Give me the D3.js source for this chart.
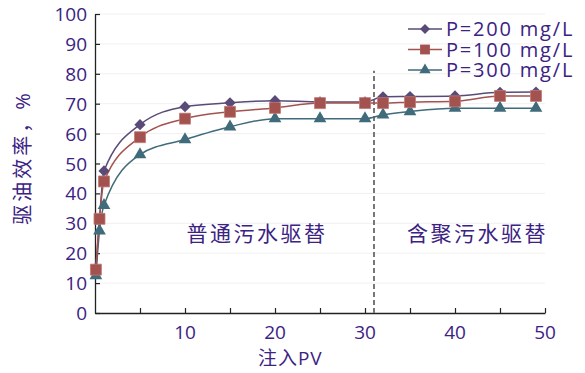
<!DOCTYPE html>
<html>
<head>
<meta charset="utf-8">
<script src="https://cdn.jsdelivr.net/npm/d3@7"></script>
<style>
  body { margin: 0; background: #fff; }
  text { font-family: "Open Sans", "Noto Sans CJK SC", sans-serif; fill: #3b2283; }
</style>
</head>
<body>
<script>
let width = 585;
let height = 373;

let marginLeft = 95;
let marginRight = 40;
let marginTop = 14;
let marginBottom = 60;

// injected PV
const pv = [0.1, 0.5, 1, 5, 10, 15, 20, 25, 30, 32, 35, 40, 45, 49];
// oil displacement efficiency, %
const p200 = [15, 31.5, 47.5, 63, 69, 70.3, 71, 70.6, 70.6, 72.3, 72.4, 72.6, 73.8, 73.9];
const p100 = [14.5, 31.5, 44, 58.8, 65, 67.3, 68.6, 70.2, 70.2, 70.2, 70.5, 70.8, 72.6, 72.6];
const p300 = [12.5, 27.5, 36, 53, 58, 62.3, 65, 65, 65, 66.3, 67.4, 68.5, 68.5, 68.5];

const seriesNames = ["P=200 mg/L", "P=100 mg/L", "P=300 mg/L"];
const seriesColors = ["#5a4a78", "#a3524f", "#3f6b7a"];
const seriesShapes = [d3.symbolDiamond2, d3.symbolSquare, d3.symbolTriangle];

const xTicks = [5, 10, 15, 20, 25, 30, 35, 40, 45, 50];
const xLabels = [10, 20, 30, 40, 50];
const yTicks = [0, 10, 20, 30, 40, 50, 60, 70, 80, 90, 100];
const splitPV = 31;
const zoneLabels = ["普通污水驱替", "含聚污水驱替"];
const zoneX = [18, 42.5];

let svg = d3.select("body").append("svg")
  .attr("width", width)
  .attr("height", height);

let scaleX = d3.scaleLinear().domain([0, 50]).range([marginLeft, width - marginRight]);
let scaleY = d3.scaleLinear().domain([0, 100]).range([height - marginBottom, marginTop]);

// faint gridlines
svg.append("g")
  .selectAll("line")
  .data(yTicks.slice(1))
  .join("line")
  .attr("x1", scaleX(0)).attr("x2", scaleX(50))
  .attr("y1", d => scaleY(d)).attr("y2", d => scaleY(d))
  .style("stroke", "#f1f1f1");

// axes
let axisX = d3.axisBottom(scaleX).tickValues(xTicks).tickSizeInner(-5).tickSizeOuter(0).tickFormat("");
let axisY = d3.axisLeft(scaleY).tickValues(yTicks).tickSizeInner(-5).tickSizeOuter(0).tickFormat("");

let gx = svg.append("g")
  .attr("transform", `translate(0, ${scaleY(0)})`)
  .call(axisX);
let gy = svg.append("g")
  .attr("transform", `translate(${scaleX(0)}, 0)`)
  .call(axisY);
[gx, gy].forEach(g => {
  g.select(".domain").style("stroke", "#222").style("stroke-width", 1.3);
  g.selectAll(".tick line").style("stroke", "#222").style("stroke-width", 1.2);
});

svg.append("g").selectAll("text")
  .data(yTicks)
  .join("text")
  .attr("x", scaleX(0) - 8)
  .attr("y", d => scaleY(d) + 7)
  .attr("text-anchor", "end")
  .style("font-size", "19px")
  .text(d => d);

svg.append("g").selectAll("text")
  .data(xLabels)
  .join("text")
  .attr("x", d => scaleX(d))
  .attr("y", scaleY(0) + 26)
  .attr("text-anchor", "middle")
  .style("font-size", "19px")
  .text(d => d);

// axis titles
svg.append("text")
  .attr("transform", `translate(30, ${scaleY(52)}) rotate(-90)`)
  .attr("text-anchor", "middle")
  .style("font-size", "20px")
  .style("letter-spacing", "3px")
  .text("驱油效率，%");

svg.append("text")
  .attr("x", scaleX(21.7))
  .attr("y", height - 8)
  .attr("text-anchor", "middle")
  .style("font-size", "19px")
  .style("letter-spacing", "1px")
  .text("注入PV");

// split line
svg.append("line")
  .attr("x1", scaleX(splitPV)).attr("x2", scaleX(splitPV))
  .attr("y1", scaleY(0)).attr("y2", scaleY(81))
  .style("stroke", "#777")
  .style("stroke-width", 2)
  .style("stroke-dasharray", "5,3");

svg.append("g").selectAll("text")
  .data(zoneLabels)
  .join("text")
  .attr("x", (d, i) => scaleX(zoneX[i]))
  .attr("y", scaleY(24))
  .attr("text-anchor", "middle")
  .style("font-size", "21px")
  .style("letter-spacing", "2.5px")
  .text(d => d);

// series
let allSeries = [p200, p100, p300];
let line = d3.line()
  .x(d => scaleX(d[0]))
  .y(d => scaleY(d[1]))
  .curve(d3.curveMonotoneX);

let drawOrder = [2, 0, 1];
drawOrder.forEach(i => {
  let data = pv.map((x, j) => [x, allSeries[i][j]]);
  svg.append("path")
    .datum(data)
    .attr("d", line)
    .style("fill", "none")
    .style("stroke", seriesColors[i])
    .style("stroke-width", 1.5);
});
let symbolSizes = [80, 120, 70];
drawOrder.forEach(i => {
  let data = pv.map((x, j) => [x, allSeries[i][j]]);
  svg.append("g").selectAll("path")
    .data(data)
    .join("path")
    .attr("transform", d => `translate(${scaleX(d[0])}, ${scaleY(d[1])})`)
    .attr("d", d3.symbol(seriesShapes[i], symbolSizes[i]))
    .style("fill", seriesColors[i])
    .style("stroke", i == 1 ? "#c07a74" : "none")
    .style("stroke-width", 0.8);
});

// legend (rows as tight as in the reference)
let legend = svg.append("g").attr("transform", "translate(408, 29)");
seriesNames.forEach((name, i) => {
  let row = legend.append("g").attr("transform", `translate(0, ${i * 20.5})`);
  row.append("line").attr("x1", 0).attr("x2", 34).attr("y1", 0).attr("y2", 0)
    .style("stroke", seriesColors[i]).style("stroke-width", 1.5);
  row.append("path").attr("transform", "translate(17, 0)")
    .attr("d", d3.symbol(seriesShapes[i], symbolSizes[i] * 0.8))
    .style("fill", seriesColors[i]);
  row.append("text").attr("x", 38).attr("y", 7)
    .style("font-size", "20px")
    .style("letter-spacing", "1.8px")
    .text(name);
});
</script>
</body>
</html>
